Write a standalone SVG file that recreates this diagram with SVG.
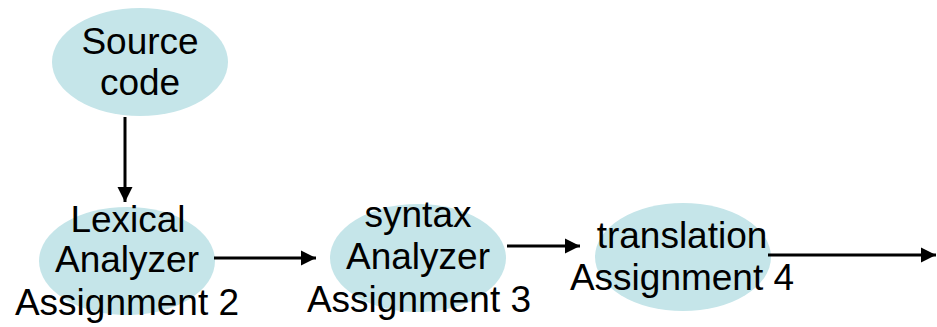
<svg xmlns="http://www.w3.org/2000/svg" width="937" height="327" viewBox="0 0 937 327">
  <style>
    .node { fill: #c5e5e9; stroke: none; }
    .label { font-family: "Liberation Sans", Arial, sans-serif; font-size: 37px; fill: #000; text-anchor: middle; }
    .edge { stroke: #000; stroke-width: 3; fill: none; marker-end: url(#arrow); }
  </style>
  <defs>
    <marker id="arrow" markerUnits="userSpaceOnUse" markerWidth="16" markerHeight="16" viewBox="0 0 16 16" refX="15" refY="8" orient="auto">
      <path d="M0,0.5 L15,8 L0,15.5 Z" fill="#000"/>
    </marker>
  </defs>
  <rect width="937" height="327" fill="#fff"/>

  <g id="source-code">
    <ellipse class="node" cx="140" cy="62" rx="88" ry="54"/>
    <text class="label" x="140" y="54">Source</text>
    <text class="label" x="140" y="95">code</text>
  </g>

  <g id="lexical-analyzer">
    <ellipse class="node" cx="127" cy="261" rx="88" ry="54"/>
    <text class="label" x="128" y="232">Lexical</text>
    <text class="label" x="127" y="272">Analyzer</text>
    <text class="label" x="127" y="315">Assignment 2</text>
  </g>

  <g id="syntax-analyzer">
    <ellipse class="node" cx="418" cy="258" rx="88" ry="54"/>
    <text class="label" x="418" y="227">syntax</text>
    <text class="label" x="418" y="269">Analyzer</text>
    <text class="label" x="419" y="312">Assignment 3</text>
  </g>

  <g id="translation">
    <ellipse class="node" cx="683" cy="257" rx="88" ry="54"/>
    <text class="label" x="682" y="248">translation</text>
    <text class="label" x="682" y="290">Assignment 4</text>
  </g>

  <g id="connectors">
    <line class="edge" x1="125" y1="117" x2="125" y2="202"/>
    <line class="edge" x1="214" y1="258" x2="316" y2="258"/>
    <line class="edge" x1="507" y1="246" x2="580" y2="246"/>
    <line class="edge" x1="768" y1="255" x2="936" y2="255"/>
  </g>
</svg>
